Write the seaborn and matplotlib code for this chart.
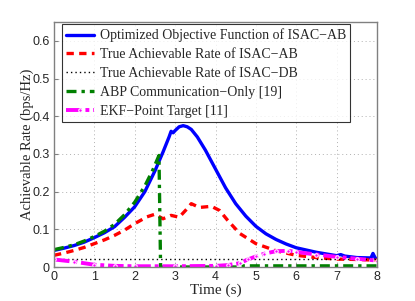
import numpy as np
import pandas as pd
import seaborn as sns
import matplotlib
matplotlib.use("Agg")
import matplotlib.pyplot as plt

# values
t_opt = [0, 0.25, 0.5, 0.75, 1, 1.25, 1.5, 1.75, 2, 2.25, 2.5, 2.7, 2.85, 2.9, 2.95, 3.0, 3.1, 3.2, 3.3, 3.4,
         3.55, 3.75, 4, 4.25, 4.5, 4.75, 5, 5.25, 5.5, 5.75, 6, 6.5, 7, 7.1, 7.2, 7.5, 7.85, 7.9, 7.95, 8]
r_opt = [0.044, 0.05, 0.057, 0.066, 0.078, 0.091, 0.107, 0.132, 0.16, 0.2, 0.255, 0.305, 0.345, 0.36, 0.356,
         0.362, 0.372, 0.375, 0.372, 0.365, 0.345, 0.31, 0.26, 0.21, 0.168, 0.135, 0.108, 0.088, 0.073, 0.061,
         0.051, 0.039, 0.03, 0.033, 0.029, 0.025, 0.024, 0.036, 0.025, 0.021]

t_ab = [0, 0.25, 0.5, 0.75, 1, 1.25, 1.5, 1.75, 2, 2.3, 2.5, 2.7, 2.9, 3.1, 3.3, 3.4, 3.6, 3.9, 4.1, 4.3,
        4.6, 5, 5.5, 6, 6.5, 7, 7.5, 8]
r_ab = [0.031, 0.037, 0.044, 0.052, 0.062, 0.072, 0.084, 0.098, 0.115, 0.133, 0.14, 0.128, 0.137, 0.132,
        0.155, 0.168, 0.158, 0.161, 0.15, 0.124, 0.089, 0.062, 0.043, 0.031, 0.025, 0.021, 0.02, 0.018]

t_db = [0, 1, 2, 3, 4, 5, 6, 7, 8]
r_db = [0.021, 0.021, 0.021, 0.021, 0.021, 0.021, 0.021, 0.021, 0.021]

t_abp = [0, 0.25, 0.5, 0.75, 1, 1.25, 1.5, 1.75, 2, 2.25, 2.45, 2.6, 2.64, 3, 4, 4.6, 4.7, 5, 6, 7, 8]
r_abp = [0.046, 0.052, 0.059, 0.069, 0.081, 0.095, 0.113, 0.139, 0.172, 0.215, 0.258, 0.296, 0.0, 0.0, 0.0,
         0.0, 0.003, 0.003, 0.003, 0.003, 0.003]

t_ekf = [0, 0.5, 1, 1.5, 2, 3, 4, 4.3, 4.6, 4.8, 5, 5.2, 5.5, 5.8, 6, 6.5, 7, 7.5, 8]
r_ekf = [0.02, 0.014, 0.006, 0.003, 0.002, 0.002, 0.003, 0.005, 0.01, 0.02, 0.028, 0.035, 0.042, 0.043, 0.04,
         0.033, 0.027, 0.022, 0.017]

labels = ["Optimized Objective Function of ISAC\u2212AB",
          "True Achievable Rate of ISAC\u2212AB",
          "True Achievable Rate of ISAC\u2212DB",
          "ABP Communication\u2212Only [19]",
          "EKF\u2212Point Target [11]"]

sns.set_style("ticks")
plt.rcParams['font.family'] = ['Liberation Serif', 'DejaVu Serif']

fig = plt.figure(figsize=(4.15, 3.01), dpi=100)
ax = fig.add_axes([54 / 415, 1 - 267 / 301, 323 / 415, 245 / 301])

sns.lineplot(x=t_opt, y=r_opt, ax=ax, color="#0000ff", lw=2.4, label=labels[0])
sns.lineplot(x=t_ab, y=r_ab, ax=ax, color="#ff0000", lw=2.4, label=labels[1])
ax.lines[-1].set_linestyle((0, (2.2, 1.6)))
sns.lineplot(x=t_db, y=r_db, ax=ax, color="black", lw=1.0, label=labels[2])
ax.lines[-1].set_linestyle((0, (1, 2.2)))
sns.lineplot(x=t_abp, y=r_abp, ax=ax, color="#008000", lw=2.4, label=labels[3])
ax.lines[-1].set_linestyle((0, (3, 1.5, 1, 1.5)))
sns.lineplot(x=t_ekf, y=r_ekf, ax=ax, color="#ff00ff", lw=2.8, label=labels[4],
             marker=".", markersize=5)
ax.lines[-1].set_linestyle((0, (4, 1, 1, 1)))

ax.set_xlim(0, 8)
ax.set_ylim(0, 0.65)
ax.set_xticks(range(0, 9))
ax.set_yticks([0, 0.1, 0.2, 0.3, 0.4, 0.5, 0.6])
ax.set_yticklabels(["0", "0.1", "0.2", "0.3", "0.4", "0.5", "0.6"])
ax.grid(True, linestyle=(0, (1, 3)), color="#b0b0b0", lw=0.7)
for s in ax.spines.values():
    s.set_color("#808080")
    s.set_linewidth(1.0)
ax.tick_params(direction="in", length=3, color="#808080", labelsize=9, pad=3)
for lab in ax.get_xticklabels() + ax.get_yticklabels():
    lab.set_family(['Liberation Sans', 'DejaVu Sans'])
ax.set_xlabel("Time (s)", fontsize=11, labelpad=0)
ax.set_ylabel("Achievable Rate (bps/Hz)", fontsize=10.5, labelpad=-1)

leg = ax.legend(loc="upper left", bbox_to_anchor=(0.025, 0.99), fontsize=10, frameon=True,
                fancybox=False, edgecolor="black", handlelength=2.0, handletextpad=0.4,
                borderaxespad=0, labelspacing=0.42, borderpad=0.3)
leg.get_frame().set_linewidth(0.8)

fig.savefig("out.png", dpi=100)
